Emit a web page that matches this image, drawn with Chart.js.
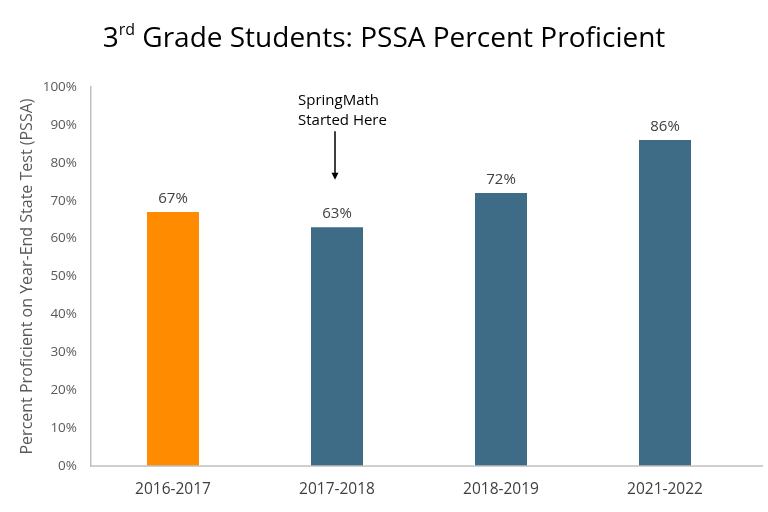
<!DOCTYPE html>
<html>
<head>
<meta charset="utf-8">
<script src="https://cdn.jsdelivr.net/npm/chart.js@4.4.0/dist/chart.umd.min.js"></script>
<style>
  body { margin: 0; background: #fff; }
  #wrap { position: relative; width: 768px; height: 512px; }
  #titre {
    position: absolute; left: 0; top: 17px; width: 768px; text-align: center;
    font-family: "Open Sans", sans-serif; font-size: 28px; color: #000; margin: 0; font-weight: normal;
  }
  #titre sup { font-size: 16px; vertical-align: 12px; line-height: 0; }
  canvas { position: absolute; left: 0; top: 0; }
</style>
</head>
<body>
<div id="wrap">
  <canvas id="myChart" width="768" height="512"></canvas>
  <h1 id="titre">3<sup>rd</sup> Grade Students: PSSA Percent Proficient</h1>
</div>
<script>
// Données du graphique
const years = ['2016-2017', '2017-2018', '2018-2019', '2021-2022'];
const proficient = [67, 63, 72, 86];
const barColors = ['#FF8C00', '#3E6B85', '#3E6B85', '#3E6B85'];
const yTicks = [0, 10, 20, 30, 40, 50, 60, 70, 80, 90, 100];
const annotationLines = ['SpringMath', 'Started Here'];
const annotationIndex = 1; // barre 2017-2018

const FONT = '"Open Sans", sans-serif';

// Étiquettes de valeur au-dessus des barres
const valueLabels = {
    id: 'valueLabels',
    afterDatasetsDraw(chart) {
        const ctx = chart.ctx;
        const meta = chart.getDatasetMeta(0);
        ctx.save();
        ctx.font = '15px ' + FONT;
        ctx.fillStyle = '#404040';
        ctx.textAlign = 'center';
        ctx.textBaseline = 'bottom';
        meta.data.forEach((bar, i) => {
            ctx.fillText(proficient[i] + '%', bar.x, bar.y - 6);
        });
        ctx.restore();
    }
};

// Ligne de l'axe X prolongée + annotation SpringMath
const extras = {
    id: 'extras',
    afterDraw(chart) {
        const ctx = chart.ctx;
        const area = chart.chartArea;
        const x = chart.scales.x;
        const y = chart.scales.y;
        ctx.save();
        ctx.strokeStyle = '#BFBFBF';
        ctx.lineWidth = 1.5;
        ctx.beginPath();
        ctx.moveTo(area.left, area.bottom);
        ctx.lineTo(chart.width - 5, area.bottom);
        ctx.stroke();

        // annotation
        const cx = x.getPixelForValue(annotationIndex);
        ctx.font = '15px ' + FONT;
        ctx.fillStyle = '#000';
        ctx.textAlign = 'left';
        ctx.textBaseline = 'middle';
        const textLeft = cx - 39;
        ctx.fillText(annotationLines[0], textLeft, y.getPixelForValue(96.5));
        ctx.fillText(annotationLines[1], textLeft, y.getPixelForValue(91));
        const ax = cx - 2;
        const top = y.getPixelForValue(88.3);
        const tip = y.getPixelForValue(75.5);
        ctx.strokeStyle = '#000';
        ctx.lineWidth = 1.5;
        ctx.beginPath();
        ctx.moveTo(ax, top);
        ctx.lineTo(ax, tip - 5);
        ctx.stroke();
        ctx.fillStyle = '#000';
        ctx.beginPath();
        ctx.moveTo(ax - 3.5, tip - 7);
        ctx.lineTo(ax + 3.5, tip - 7);
        ctx.lineTo(ax, tip);
        ctx.closePath();
        ctx.fill();
        ctx.restore();
    }
};

const ctx = document.getElementById('myChart').getContext('2d');
new Chart(ctx, {
    type: 'bar',
    data: {
        labels: years,
        datasets: [{
            data: proficient,
            backgroundColor: barColors,
            barPercentage: 0.317,
            categoryPercentage: 1.0
        }]
    },
    options: {
        responsive: false,
        animation: false,
        layout: { padding: { top: 87, right: 21, left: 0, bottom: 0 } },
        plugins: {
            legend: { display: false },
            tooltip: { enabled: false },
            title: { display: false }
        },
        scales: {
            x: {
                grid: { display: false, drawTicks: false },
                border: { display: false },
                ticks: {
                    color: '#404040',
                    font: { family: FONT, size: 15.5 },
                    padding: 14
                },
                afterFit(scale) { scale.height = 46; }
            },
            y: {
                min: 0,
                max: 100,
                afterBuildTicks(scale) { scale.ticks = yTicks.map(v => ({ value: v })); },
                grid: { display: false, drawTicks: false },
                border: { display: true, color: '#BFBFBF', width: 1.5 },
                ticks: {
                    color: '#595959',
                    font: { family: FONT, size: 13.5 },
                    padding: 14
                    ,callback: v => v + '%'
                },
                title: {
                    display: true,
                    text: 'Percent Proficient on Year-End State Test (PSSA)',
                    color: '#595959',
                    font: { family: FONT, size: 16 },
                    padding: { top: 18, bottom: 0 }
                },
                afterFit(scale) { scale.width = 91; }
            }
        }
    },
    plugins: [valueLabels, extras]
});
</script>
</body>
</html>
